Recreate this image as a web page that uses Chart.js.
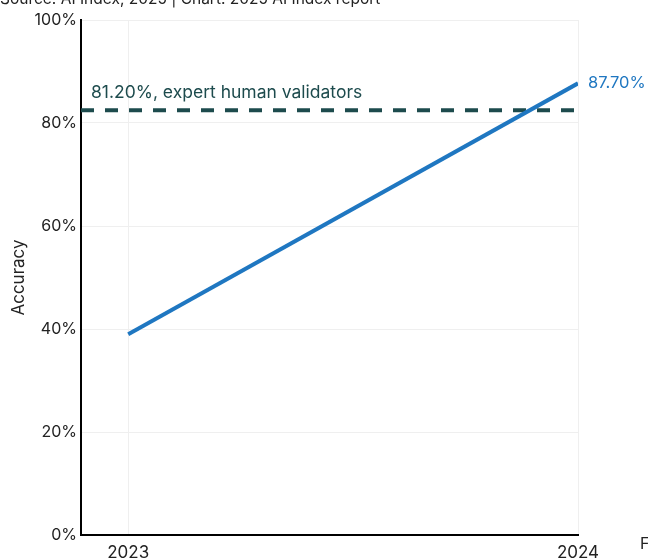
<!DOCTYPE html>
<html>
<head>
<meta charset="utf-8">
<script src="https://cdn.jsdelivr.net/npm/chart.js@4"></script>
<style>
  html, body { margin: 0; padding: 0; background: #fff; }
  #wrap { width: 648px; height: 558px; position: relative; }
</style>
</head>
<body>
<div id="wrap"><canvas id="accChart" width="648" height="558"></canvas></div>
<script>
// data
const years = [2023, 2024];
const accuracy = [39.0, 87.7];
const expertLevel = 82.5;            // where the dashed line sits
const expertLabel = '81.20%, expert human validators';
const endLabel = '87.70%';
const yTicks = [0, 20, 40, 60, 80, 100];
const xRange = [2022.895, 2024];
const sourceText = 'Source: AI Index, 2025 | Chart: 2025 AI Index report';

const FONT = 'Inter, "Noto Sans", sans-serif';
const blue = '#1f77c1';
const teal = '#1d4b4d';

const labelPlugin = {
  id: 'labels',
  afterDatasetsDraw(chart) {
    const ctx = chart.ctx;
    const xs = chart.scales.x, ys = chart.scales.y;
    ctx.save();
    ctx.textBaseline = 'middle';
    ctx.textAlign = 'left';
    // end label of the series
    ctx.font = '16.5px ' + FONT;
    ctx.fillStyle = blue;
    const last = accuracy.length - 1;
    ctx.fillText(endLabel, xs.getPixelForValue(years[last]) + 10, ys.getPixelForValue(accuracy[last]));
    // expert line label
    ctx.font = '17.5px ' + FONT;
    ctx.fillStyle = teal;
    ctx.fillText(expertLabel, xs.left + 10, ys.getPixelForValue(expertLevel) - 17);
    // source line (cut off at the top) and stray figure text at the right
    ctx.fillStyle = '#222';
    ctx.font = '15.5px ' + FONT;
    ctx.fillText(sourceText, 0, -1);
    ctx.font = '16px ' + FONT;
    ctx.fillText('F', 640, 544);
    ctx.restore();
  }
};

new Chart(document.getElementById('accChart').getContext('2d'), {
  type: 'line',
  data: {
    datasets: [
      {
        label: 'Accuracy',
        data: years.map((y, i) => ({ x: y, y: accuracy[i] })),
        borderColor: blue,
        borderWidth: 4,
        pointRadius: 0,
        tension: 0
      },
      {
        label: 'Expert human validators',
        data: xRange.map(x => ({ x: x, y: expertLevel })),
        borderColor: teal,
        borderWidth: 4,
        borderDash: [13, 11],
        pointRadius: 0
      }
    ]
  },
  options: {
    responsive: false,
    animation: false,
    layout: { padding: { top: 20, right: 70, left: 0, bottom: 0 } },
    plugins: { legend: { display: false }, tooltip: { enabled: false } },
    scales: {
      x: {
        type: 'linear',
        min: xRange[0],
        max: xRange[1],
        afterBuildTicks: s => { s.ticks = years.map(v => ({ value: v })); },
        afterFit: s => { s.height = 23; },
        grid: { color: '#efefef', drawTicks: false },
        border: { color: '#000', width: 2 },
        ticks: {
          color: '#222',
          font: { family: FONT, size: 17 },
          padding: 8,
          maxRotation: 0,
          callback: v => String(v)
        }
      },
      y: {
        min: 0,
        max: 100,
        afterBuildTicks: s => { s.ticks = yTicks.map(v => ({ value: v })); },
        afterFit: s => { s.width = 81; },
        grid: { color: '#efefef', drawTicks: false },
        border: { color: '#000', width: 2 },
        ticks: {
          color: '#222',
          font: { family: FONT, size: 16 },
          padding: 4,
          callback: v => v + '%'
        },
        title: {
          display: true,
          text: 'Accuracy',
          color: '#222',
          font: { family: FONT, size: 17 },
          padding: { top: 9, bottom: 4 }
        }
      }
    }
  },
  plugins: [labelPlugin]
});
</script>
</body>
</html>
